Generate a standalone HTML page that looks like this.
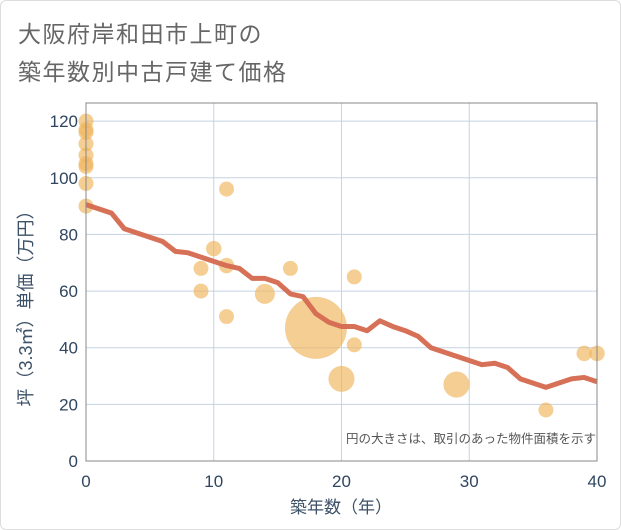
<!DOCTYPE html>
<html><head><meta charset="utf-8"><style>
body{margin:0;background:#fff;font-family:"Liberation Sans","Noto Sans CJK JP",sans-serif}
#wrap{position:relative;width:619px;height:528px;border:1px solid #ddd;border-radius:6px;overflow:hidden;background:#fff}
</style></head><body>
<div id="wrap">
<svg id="chart" width="621" height="530" style="position:absolute;left:-1px;top:-1px">
<text x="18" y="42" font-size="23" fill="#666" font-family="Liberation Sans, Noto Sans CJK JP, sans-serif" letter-spacing="1.5">大阪府岸和田市上町の</text>
<text x="18" y="80" font-size="23" fill="#666" font-family="Liberation Sans, Noto Sans CJK JP, sans-serif" letter-spacing="1.5">築年数別中古戸建て価格</text>
<g id="grid"></g><g id="pts"></g><g id="ln"></g><g id="ax"></g>
<text x="596" y="443" font-size="12.5" fill="#555" text-anchor="end" font-family="Liberation Sans, Noto Sans CJK JP, sans-serif">円の大きさは、取引のあった物件面積を示す</text>
<text x="341" y="513" font-size="17" fill="#3d5168" text-anchor="middle" font-family="Liberation Sans, Noto Sans CJK JP, sans-serif">築年数（年）</text>
<text transform="translate(32,304) rotate(-90)" font-size="18" fill="#3d5168" text-anchor="middle" font-family="Liberation Sans, Noto Sans CJK JP, sans-serif">坪（3.3㎡）単価（万円）</text>
</svg></div>
<script>
const xTicks=[0,10,20,30,40];
const yTicks=[0,20,40,60,80,100,120];
const lineX=[0,1,2,3,4,5,6,7,8,9,10,11,12,13,14,15,16,17,18,19,20,21,22,23,24,25,26,27,28,29,30,31,32,33,34,35,36,37,38,39,40];
const lineY=[90.5,89,87.5,82,80.5,79,77.5,74,73.5,72,70.5,69,68,64.5,64.5,63,59,58,52,49,47.5,47.5,46,49.5,47.5,46,44,40,38.5,37,35.5,34,34.5,33,29,27.5,26,27.5,29,29.5,28];
const ptX=[0,0,0,0,0,0,0,0,0,9,9,10,11,11,11,14,16,18,20,21,21,29,36,39,40];
const ptY=[120,117,116,112,108,105,104,98,90,68,60,75,96,69,51,59,68,47,29,65,41,27,18,38,38];
const ptArea=[56,56,56,56,56,56,56,56,56,56,56,60,56,60,56,100,56,960,170,56,56,170,56,60,60];
const X0=86,X1=597,Y0=461,Y1=103;
const sx=v=>X0+(v/40)*(X1-X0);
const sy=v=>Y0-(v/126.4)*(Y0-Y1);
const NS="http://www.w3.org/2000/svg";
function mk(p,t,a){const e=document.createElementNS(NS,t);for(const k in a)e.setAttribute(k,a[k]);p.appendChild(e);return e;}
const grid=document.getElementById('grid'),ax=document.getElementById('ax'),pts=document.getElementById('pts'),ln=document.getElementById('ln');
for(const t of xTicks){const g=mk(grid,'line',{x1:sx(t),x2:sx(t),y1:Y1,y2:Y0,stroke:'#c5d3e2','stroke-width':1});


const l=mk(ax,'text',{x:sx(t),y:Y0+26,'font-size':17,fill:'#2f4560','text-anchor':'middle'});l.textContent=t;

}
for(const t of yTicks){const g=mk(grid,'line',{x1:X0,x2:X1,y1:sy(t),y2:sy(t),stroke:'#c5d3e2','stroke-width':1});


const l=mk(ax,'text',{x:X0-8,y:sy(t)+6,'font-size':17,fill:'#2f4560','text-anchor':'end'});l.textContent=t;

}
const fr=mk(ax,'rect',{x:X0,y:Y1,width:X1-X0,height:Y0-Y1,fill:'none',stroke:'#888','stroke-width':1});


ptX.forEach((x,i)=>{const c=mk(pts,'circle',{cx:sx(x),cy:sy(ptY[i]),r:Math.sqrt(ptArea[i]),fill:'#f0b45a','fill-opacity':0.65});

});
const p=mk(ln,'polyline',{points:lineX.map((x,i)=>sx(x)+','+sy(lineY[i])).join(' '),fill:'none',stroke:'#d4694f','stroke-width':5,'stroke-linejoin':'round','stroke-opacity':0.95});


</script>
</body></html>
